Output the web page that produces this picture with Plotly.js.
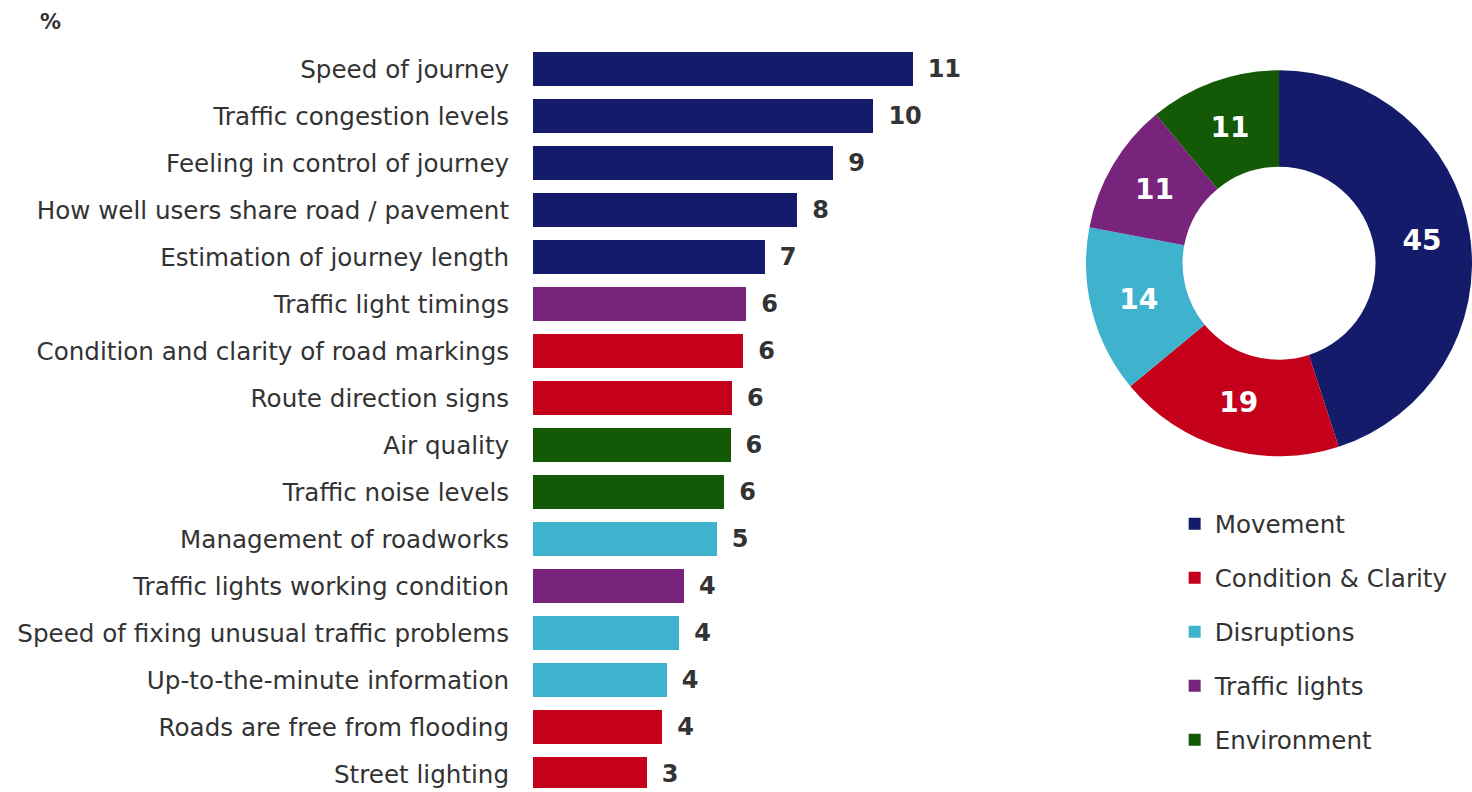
<!DOCTYPE html>
<html>
<head>
<meta charset="utf-8">
<script src="https://cdn.plot.ly/plotly-3.0.1.min.js"></script>
<style>html,body{margin:0;padding:0;background:#fff;}#chart{width:1472px;height:792px;}</style>
</head>
<body>
<div id="chart"></div>
<script>
const items = [
  "Speed of journey",
  "Traffic congestion levels",
  "Feeling in control of journey",
  "How well users share road / pavement",
  "Estimation of journey length",
  "Traffic light timings",
  "Condition and clarity of road markings",
  "Route direction signs",
  "Air quality",
  "Traffic noise levels",
  "Management of roadworks",
  "Traffic lights working condition",
  "Speed of fixing unusual traffic problems",
  "Up-to-the-minute information",
  "Roads are free from flooding",
  "Street lighting"
];
const itemValues = [11.22, 10.06, 8.87, 7.81, 6.85, 6.30, 6.21, 5.88, 5.84, 5.65, 5.43, 4.46, 4.32, 3.95, 3.82, 3.36];
const itemGroup = ["Movement","Movement","Movement","Movement","Movement","Traffic lights","Condition & Clarity","Condition & Clarity","Environment","Environment","Disruptions","Traffic lights","Disruptions","Disruptions","Condition & Clarity","Condition & Clarity"];

const groups = ["Movement", "Condition & Clarity", "Disruptions", "Traffic lights", "Environment"];
const groupValues = [45, 19, 14, 11, 11];
const groupColors = ["#141B6A", "#C4001A", "#3FB2CE", "#78237C", "#145A06"];

const font = "DejaVu Sans, Verdana, sans-serif";
const traces = [];
groups.forEach((g, gi) => {
  const ys = [], xs = [];
  items.forEach((it, i) => { if (itemGroup[i] === g) { ys.push(it); xs.push(itemValues[i]); } });
  traces.push({
    type: 'bar', orientation: 'h', name: g, legendgroup: g,
    y: ys, x: xs,
    marker: {color: groupColors[gi], line: {width: 0}},
    texttemplate: '\u2002%{x:.0f}', textposition: 'outside', cliponaxis: false,
    textfont: {family: font, size: 24, color: '#333333', weight: 'bold'},
    hoverinfo: 'skip'
  });
});
traces.push({
  type: 'pie', labels: groups, values: groupValues, hole: 0.5, sort: false,
  direction: 'clockwise', rotation: 0, showlegend: false,
  marker: {colors: groupColors, line: {width: 0}},
  textinfo: 'value', textposition: 'inside', insidetextorientation: 'horizontal',
  textfont: {family: font, size: 28, color: '#ffffff', weight: 'bold'},
  domain: {x: [0.7378, 1.0], y: [0.4226, 0.9125]},
  hoverinfo: 'skip'
});

const layout = {
  width: 1472, height: 792,
  margin: {l: 0, r: 0, t: 0, b: 0},
  paper_bgcolor: '#ffffff', plot_bgcolor: '#ffffff',
  barmode: 'stack', bargap: 0.28,
  font: {family: font, color: '#333333'},
  showlegend: true,
  legend: {x: 0.798, y: 0.367, xanchor: 'left', yanchor: 'top',
           traceorder: 'grouped', tracegroupgap: 19,
           font: {family: font, size: 24.6, color: '#333333'}, itemwidth: 30},
  xaxis: {domain: [0.3621, 0.7069], range: [0, 15], visible: false, fixedrange: true},
  yaxis: {domain: [0.0049, 0.9426], type: 'category', categoryorder: 'array', categoryarray: items,
          range: [15.3, -0.5], showgrid: false, zeroline: false, showline: false,
          ticks: 'outside', ticklen: 18, tickcolor: 'rgba(0,0,0,0)', automargin: false,
          tickfont: {family: font, size: 24.6, color: '#333333'}, fixedrange: true},
  annotations: [{text: '<b>%</b>', xref: 'paper', yref: 'paper', x: 0.026, y: 0.972,
                 xanchor: 'left', yanchor: 'middle', showarrow: false,
                 font: {family: font, size: 21, color: '#333333'}}]
};
Plotly.newPlot('chart', traces, layout, {displayModeBar: false, staticPlot: true});
</script>
</body>
</html>
